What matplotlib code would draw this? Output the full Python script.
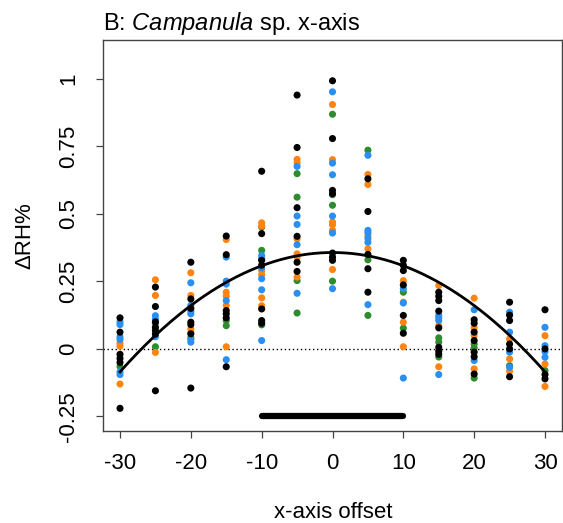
import numpy as np
import matplotlib
matplotlib.use("Agg")
import matplotlib.pyplot as plt

plt.rcParams["font.family"] = ["Liberation Sans", "DejaVu Sans"]
plt.rcParams["mathtext.fontset"] = "custom"
plt.rcParams["mathtext.rm"] = "Liberation Sans"
plt.rcParams["mathtext.it"] = "Liberation Sans:italic"

# x-axis offsets (one column of points each)
offsets = [-30, -25, -20, -15, -10, -5, 0, 5, 10, 15, 20, 25, 30]

# delta RH% per offset, one list per colour group
green_vals = [
    [-0.065],
    [0.095, 0.008],
    [0.041],
    [0.105, 0.086],
    [0.451, 0.365, 0.089],
    [0.649, 0.562, 0.253, 0.133],
    [0.869, 0.571, 0.532, 0.251],
    [0.736, 0.33, 0.124],
    [0.21, 0.077],
    [0.041, 0.025, -0.03],
    [0.018, 0.004, -0.108],
    [-0.062],
    [-0.08],
]
orange_vals = [
    [0.02, 0.01, -0.13],
    [0.256, 0.198, -0.013],
    [0.282, 0.198, 0.074, 0.06],
    [0.405, 0.21, 0.195, 0.161, 0.008],
    [0.467, 0.455, 0.29, 0.275, 0.189, 0.16],
    [0.702, 0.69, 0.408, 0.352, 0.34, 0.266],
    [0.905, 0.701, 0.47, 0.46, 0.439, 0.294],
    [0.646, 0.609, 0.42, 0.371],
    [0.253, 0.173, 0.099, 0.008],
    [0.235, 0.086, -0.066],
    [0.188, 0.078, 0.05, -0.074],
    [0.037, -0.037, -0.083],
    [0.049, -0.056, -0.139],
]
blue_vals = [
    [0.10, 0.09, 0.045, 0.035, -0.085, -0.095],
    [0.123, 0.11, 0.045],
    [0.245, 0.161, 0.14, 0.13, 0.035, 0.025],
    [0.34, 0.251, 0.24, 0.179, -0.04],
    [0.346, 0.335, 0.30, 0.26, 0.219, 0.031],
    [0.676, 0.492, 0.461, 0.386, 0.206],
    [0.952, 0.688, 0.645, 0.492, 0.429, 0.223],
    [0.717, 0.439, 0.43, 0.41, 0.395, 0.164],
    [0.223, 0.17, -0.108],
    [0.124, 0.115, 0.105, -0.095],
    [0.145, -0.043],
    [0.136, 0.062, -0.012, -0.068],
    [0.08, 0.012, -0.01, -0.031],
]
black_vals = [
    [0.115, 0.062, -0.02, -0.035, -0.05, -0.22],
    [0.229, 0.157, 0.10, 0.08, 0.068, 0.055, -0.155],
    [0.321, 0.185, 0.15, 0.099, 0.09, 0.056, -0.145],
    [0.418, 0.349, 0.142, 0.13, 0.115, -0.066],
    [0.658, 0.427, 0.328, 0.31, 0.148, 0.105, 0.095],
    [0.94, 0.746, 0.523, 0.417, 0.321, 0.287],
    [0.993, 0.779, 0.587, 0.575, 0.355, 0.34, 0.328],
    [0.63, 0.509, 0.35, 0.297, 0.21],
    [0.328, 0.31, 0.29, 0.237, 0.124, 0.058],
    [0.21, 0.195, 0.179, 0.14, 0.078, 0.006, -0.009, -0.02],
    [0.108, 0.095, 0.062, 0.031, -0.012, -0.029, -0.093],
    [0.173, 0.125, 0.105, 0.018, 0.0, -0.103],
    [0.145, 0.0, -0.095, -0.111],
]

# quadratic fit (a*x^2 + b*x + c)
curve_coef = [-0.000491, 0.0, 0.357]
# thick bar marking the -10..10 range
bar_x = [-10, 10]
bar_y = -0.25

xticks = [-30, -20, -10, 0, 10, 20, 30]
yticks = [-0.25, 0, 0.25, 0.5, 0.75, 1]
ytick_labels = ["-0.25", "0", "0.25", "0.5", "0.75", "1"]

W, H = 563, 523
fig = plt.figure(figsize=(W / 100, H / 100), dpi=100)
ax = fig.add_axes([103 / W, 1 - 431 / H, 459 / W, 391 / H])

ax.axhline(0, color="black", lw=1, ls=(0, (1, 1.9)), zorder=1)

groups = [(green_vals, "#2e8b2e"), (orange_vals, "#ff8410"),
          (blue_vals, "#2a8ff0"), (black_vals, "black")]
for vals, col in groups:
    xs = np.repeat(offsets, [len(v) for v in vals])
    ys = np.concatenate([np.array(v, dtype=float) for v in vals])
    ax.scatter(xs, ys, s=26, color=col, edgecolors="none", zorder=3)

cx = np.linspace(-30, 30, 200)
ax.plot(cx, np.polyval(curve_coef, cx), color="black", lw=2.0, zorder=4)

ax.plot(bar_x, [bar_y, bar_y], color="black", lw=4.5,
        solid_capstyle="round", zorder=4)

ax.set_xlim(-32.4, 32.4)
ax.set_ylim(-0.304, 1.144)
ax.set_xticks(xticks)
ax.set_xticklabels([str(t) for t in xticks], fontsize=16)
ax.set_yticks(yticks)
ax.set_yticklabels(ytick_labels, fontsize=16, rotation=90, va="center")
ax.tick_params(axis="x", length=5, width=0.9, color="#444444", pad=11)
ax.tick_params(axis="y", length=5, width=0.9, color="#444444", pad=12)
for sp in ax.spines.values():
    sp.set_color("#444444")
    sp.set_linewidth(1.0)

fig.text(103 / W, 1 - 30 / H, r"B: $\mathit{Campanula}$ sp. x-axis",
         fontsize=17, ha="left", va="baseline")
fig.text(25 / W, 1 - 236 / H, "ΔRH%", fontsize=16, rotation=90,
         ha="center", va="center")
fig.text(333 / W, 5 / H, "x-axis offset", fontsize=16,
         ha="center", va="baseline")

fig.savefig("out.png", dpi=100)
